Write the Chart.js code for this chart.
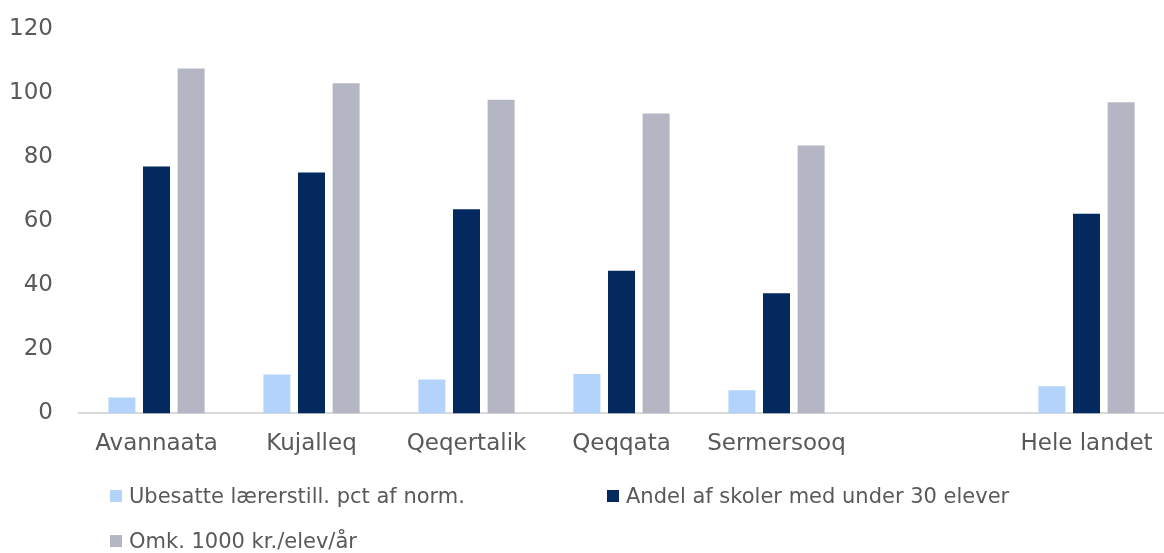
<!DOCTYPE html>
<html>
<head>
<meta charset="utf-8">
<script src="https://cdn.jsdelivr.net/npm/chart.js@4/dist/chart.umd.min.js"></script>
<style>
  body { margin: 0; background: #fff; font-family: "DejaVu Sans", Verdana, sans-serif; overflow: hidden; }
  #wrap { position: relative; width: 1164px; height: 553px; overflow: hidden; }
  #chart { position: absolute; left: 0; top: -11px; }
  #legend { position: absolute; left: 110px; top: 473px; width: 1000px; display: flex; flex-wrap: wrap; }
  .item { display: flex; align-items: center; height: 45px; color: #595959; font-size: 21px; white-space: nowrap; }
  .item:first-child { width: 497px; }
  .box { width: 12px; height: 12px; margin-right: 7px; }
</style>
</head>
<body>
<div id="wrap">
  <canvas id="chart" width="1164" height="488"></canvas>
  <div id="legend"></div>
</div>
<script>
// Data
var labels = ["Avannaata", "Kujalleq", "Qeqertalik", "Qeqqata", "Sermersooq", "", "Hele landet"];
var ubesatte = [5.0, 12.1, 10.6, 12.3, 7.2, null, 8.5];
var andel = [77.0, 75.2, 63.7, 44.5, 37.5, null, 62.3];
var omk = [107.6, 103.0, 97.9, 93.6, 83.6, null, 97.1];
var yTicks = [0, 20, 40, 60, 80, 100, 120];

var seriesNames = ["Ubesatte lærerstill. pct af norm.", "Andel af skoler med under 30 elever", "Omk. 1000 kr./elev/år"];
var colors = ["#b4d3fa", "#03295e", "#b4b6c3"];

var textColor = "#595959";
var axisFont = { family: '"DejaVu Sans", Verdana, sans-serif', size: 23 };

var chart = new Chart(document.getElementById("chart"), {
    type: 'bar',
    data: {
        labels: labels,
        datasets: [
            { label: seriesNames[0], data: ubesatte, backgroundColor: colors[0] },
            { label: seriesNames[1], data: andel, backgroundColor: colors[1] },
            { label: seriesNames[2], data: omk, backgroundColor: colors[2] }
        ]
    },
    options: {
        responsive: false,
        animation: false,
        datasets: {
            bar: { categoryPercentage: 0.67, barPercentage: 0.78 }
        },
        layout: { padding: { top: 13, right: 0, bottom: 10, left: 0 } },
        plugins: {
            legend: { display: false },
            tooltip: { enabled: false }
        },
        scales: {
            x: {
                grid: { display: false },
                border: { color: '#d9d9d9', width: 2 },
                ticks: {
                    color: textColor,
                    font: axisFont,
                    padding: 9,
                    maxRotation: 0,
                    autoSkip: false
                }
            },
            y: {
                min: 0,
                max: 120,
                afterBuildTicks: function(s) { s.ticks = yTicks.map(function(v){ return { value: v }; }); },
                afterFit: function(s) { s.width = 79; },
                grid: { display: false, drawTicks: false },
                border: { display: false },
                ticks: {
                    color: textColor,
                    font: axisFont,
                    padding: 26
                }
            }
        }
    }
});

// legend like the excel one
var legendEl = document.getElementById("legend");
chart.data.datasets.forEach(function(ds) {
    var item = document.createElement("div");
    item.className = "item";
    var box = document.createElement("span");
    box.className = "box";
    box.style.background = ds.backgroundColor;
    var txt = document.createElement("span");
    txt.textContent = ds.label;
    item.appendChild(box);
    item.appendChild(txt);
    legendEl.appendChild(item);
});
</script>
</body>
</html>
